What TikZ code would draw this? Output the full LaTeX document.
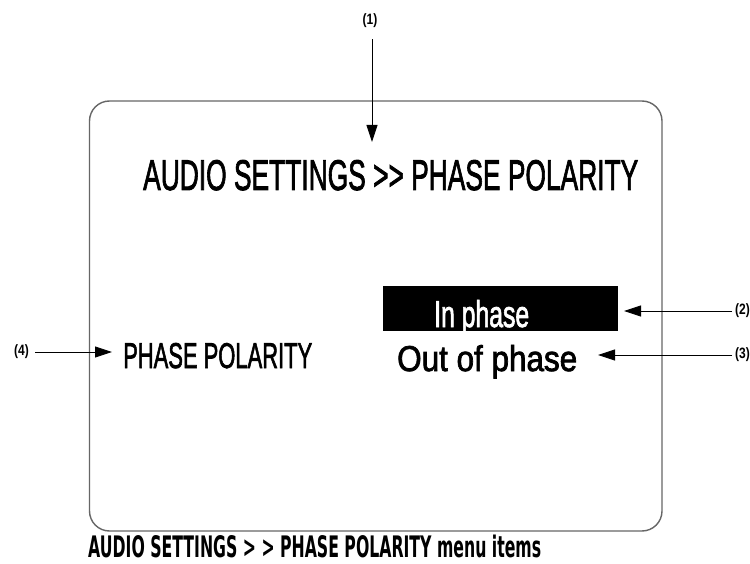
\documentclass[tikz,border=0pt]{standalone}
\usepackage{fontspec}
\setmainfont{Liberation Sans}
\newfontfamily\screenfont[FakeBold=2.2]{Liberation Sans}
\newfontfamily\condfont[FakeStretch=0.8]{Liberation Sans}
\newfontfamily\heavyfont{DejaVu Sans}
\usetikzlibrary{arrows.meta}

% text squeezed into a box of given width and cap height
\newcommand{\sizedtext}[3]{\resizebox{#1}{#2}{#3}}

\begin{document}
\begin{tikzpicture}[x=1pt,y=-1pt,
  panel/.style={draw=black!60, line width=1.4pt, rounded corners=20pt},
  txt/.style={inner sep=0pt, anchor=base west},
  lbl/.style={inner sep=0pt, font=\condfont\bfseries\fontsize{15}{15}\selectfont},
  arr/.style={line width=0.9pt, -{Triangle[length=17pt,width=11pt]}}]
\useasboundingbox (0,0) rectangle (750,564);
\fill[white] (0,0) rectangle (750,564);

% screen outline
\draw[panel] (89.5,101) rectangle (662,531);

% screen contents
\node[txt] (title) at (143,190) {\sizedtext{495pt}{30pt}{\screenfont AUDIO SETTINGS >{}> PHASE POLARITY}};
\node[fill=black, inner sep=0pt, minimum width=235pt, minimum height=45pt, anchor=north west] (hl) at (383,286) {};
\node[txt, text=white] (inph) at (434,327) {\sizedtext{95pt}{27pt}{\screenfont In phase}};
\node[txt] (outph) at (397,371) {\sizedtext{180pt}{26pt}{\screenfont Out of phase}};
\node[txt] (menu) at (123,368) {\sizedtext{189pt}{25pt}{\screenfont PHASE POLARITY}};

% caption
\node[txt] (cap) at (88,557.5) {\sizedtext{453pt}{22.5pt}{\heavyfont\bfseries AUDIO SETTINGS >{} > PHASE POLARITY menu items}};

% callout labels
\node[lbl] (l1) at (370,21) {(1)};
\node[lbl, anchor=west] (l2) at (735,311) {(2)};
\node[lbl, anchor=west] (l3) at (735,355) {(3)};
\node[lbl, anchor=east] (l4) at (29,352) {(4)};

% arrow tips
\coordinate (t1) at (372,142);
\coordinate (t2) at (624,311);
\coordinate (t3) at (598,355);
\coordinate (t4) at (112,352);

\draw[arr, shorten <=11pt] (l1.south -| t1) -- (t1);
\draw[arr, shorten <=3pt] (l2.west) -- (t2);
\draw[arr, shorten <=3pt] (l3.west) -- (t3);
\draw[arr, shorten <=6pt] (l4.east) -- (t4);
\end{tikzpicture}
\end{document}
